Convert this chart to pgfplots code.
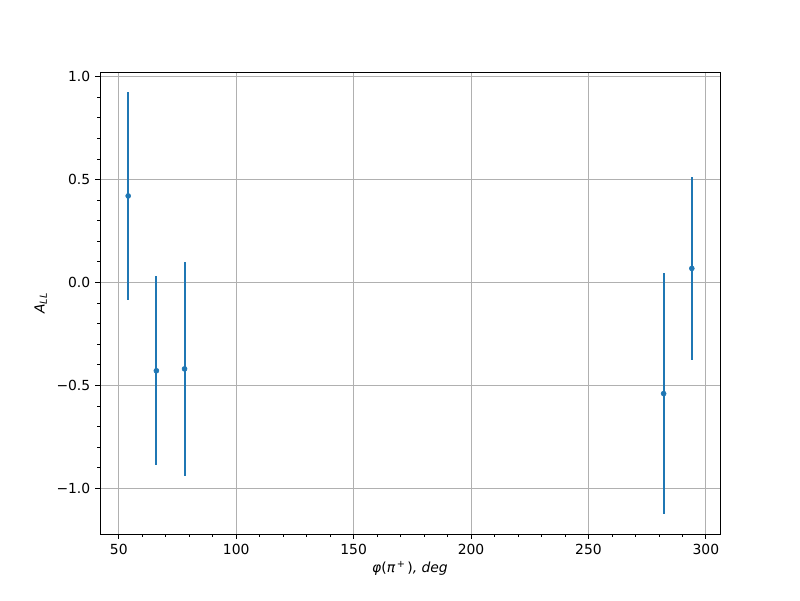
\documentclass[border=0pt]{standalone}
\usepackage{pgfplots}
\pgfplotsset{compat=1.18}
\usepackage{fontspec}
\setmainfont{DejaVu Sans}
\definecolor{mplblue}{HTML}{1F77B4}
\definecolor{gridgray}{HTML}{B0B0B0}
\begin{document}
\begin{tikzpicture}
\useasboundingbox (-72pt,-47.52pt) rectangle (504pt,384.48pt);
\begin{axis}[
  at={(0,0)}, anchor=south west,
  scale only axis, width=446.4pt, height=332.64pt,
  xmin=42, xmax=306, ymin=-1.222, ymax=1.022,
  xtick={50,100,150,200,250,300},
  xticklabels={50,100,150,200,250,300},
  ytick={-1,-0.5,0,0.5,1},
  yticklabels={−1.0,−0.5,0.0,0.5,1.0},
  minor x tick num=4, minor y tick num=4,
  tick align=outside, xtick pos=bottom, ytick pos=left,
  major tick length=3.5pt, minor tick length=2pt,
  tick style={black, line width=0.7pt},
  minor tick style={black, line width=0.55pt},
  axis line style={line width=0.65pt},
  grid=major, major grid style={gridgray, line width=0.7pt},
  tick label style={font=\fontsize{10}{12}\selectfont},
  xlabel={\textit{φ}(\textit{π}\textsuperscript{\,+\,})\textit{, deg}},
  ylabel={\textit{A}\textsubscript{\textit{LL}}},
  label style={font=\fontsize{10}{12}\selectfont},
  xlabel style={yshift=2pt},
]
\addplot[mplblue, only marks, mark=*, mark size=1.8pt,
  error bars/.cd, y dir=both, y explicit, error mark=none,
  error bar style={mplblue, line width=1.5pt}]
  table[x=x, y=y, y error=e] {
  x y e
  54 0.420 0.503
  66 -0.429 0.459
  78 -0.420 0.520
  282 -0.540 0.584
  294 0.068 0.446
  };
\end{axis}
\end{tikzpicture}
\end{document}
